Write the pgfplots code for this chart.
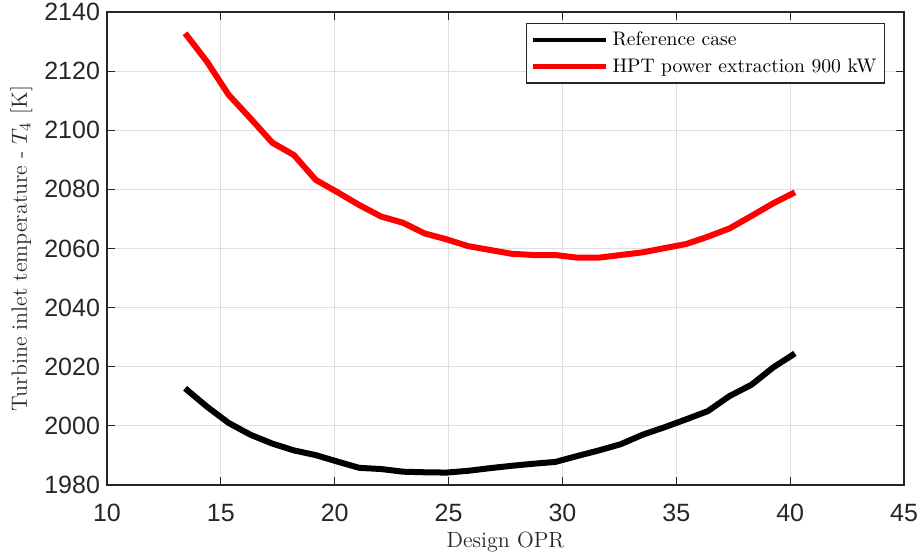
\documentclass[border=0pt]{standalone}
\usepackage{fontspec}
\usepackage{pgfplots}
\pgfplotsset{compat=1.18}
\newfontfamily\ticksfont{Liberation Sans}
\definecolor{axgray}{HTML}{262626}
\definecolor{gridgray}{HTML}{DFDFDF}
\begin{document}
\begin{tikzpicture}
\begin{axis}[
  scale only axis,
  width=398.5pt, height=236.5pt,
  xmin=10, xmax=45, ymin=1980, ymax=2140,
  xtick={10,15,...,45}, ytick={1980,2000,...,2140},
  grid=major,
  major grid style={gridgray, line width=0.5pt},
  axis line style={axgray, line width=0.6pt},
  tick style={axgray, line width=0.6pt},
  tick align=inside,
  major tick length=4pt,
  tick label style={font=\fontsize{12.5}{14}\selectfont\ticksfont, text=axgray},
  xticklabel style={yshift=-6pt},
  /pgf/number format/assume math mode=true,
  /pgf/number format/1000 sep={},
  xlabel={Design OPR},
  ylabel={Turbine inlet temperature - $T_4$ [K]},
  label style={font=\fontsize{11}{13}\selectfont, text=axgray},
  xlabel style={at={([yshift=-31pt]axis description cs:0.5,0)}, anchor=base},
  ylabel style={at={([xshift=-40pt]axis description cs:0,0.5)}, anchor=base},
  legend style={at={([xshift=-9.5pt,yshift=-5.5pt]axis description cs:1,1)}, anchor=north east,
    font=\fontsize{9.8}{12}\selectfont,
    draw=axgray, line width=0.6pt, inner sep=2pt, row sep=1pt},
  legend cell align=left,
  legend image code/.code={\draw[#1, line width=2.4pt] (0pt,0pt) -- (36.5pt,0pt);},
]
\addplot[black, line width=3pt] coordinates {
(13.43,2012.7) (14.39,2006.5) (15.34,2001.0) (16.30,1997.0) (17.26,1994.0)
(18.21,1991.7) (19.17,1990.1) (20.13,1987.9) (21.08,1985.8) (22.04,1985.4)
(23.00,1984.5) (23.95,1984.3) (24.91,1984.2) (25.86,1984.8) (26.82,1985.7)
(27.78,1986.5) (28.73,1987.2) (29.69,1987.8) (30.65,1989.8) (31.60,1991.7)
(32.56,1993.8) (33.52,1997.0) (34.47,1999.5) (35.43,2002.2) (36.39,2005.0)
(37.34,2010.1) (38.30,2013.9) (39.26,2019.8) (40.21,2024.5)
};
\addlegendentry{Reference case}
\addplot[red, line width=3pt] coordinates {
(13.43,2132.8) (14.39,2123.2) (15.34,2112.0) (16.30,2104.0) (17.26,2095.8)
(18.21,2091.6) (19.17,2083.2) (20.13,2079.0) (21.08,2074.7) (22.04,2070.8)
(23.00,2068.7) (23.95,2065.1) (24.91,2063.1) (25.86,2060.8) (26.82,2059.5)
(27.78,2058.2) (28.73,2057.8) (29.69,2057.8) (30.65,2056.9) (31.60,2056.9)
(32.56,2057.8) (33.52,2058.7) (34.47,2060.1) (35.43,2061.5) (36.39,2064.0)
(37.34,2066.8) (38.30,2071.0) (39.26,2075.3) (40.21,2079.0)
};
\addlegendentry{HPT power extraction 900 kW}
\end{axis}
\pgfresetboundingbox
\path ([shift={(-53.5pt,-35pt)}]current axis.south west) rectangle ([shift={(7pt,6pt)}]current axis.north east);
\end{tikzpicture}
\end{document}
